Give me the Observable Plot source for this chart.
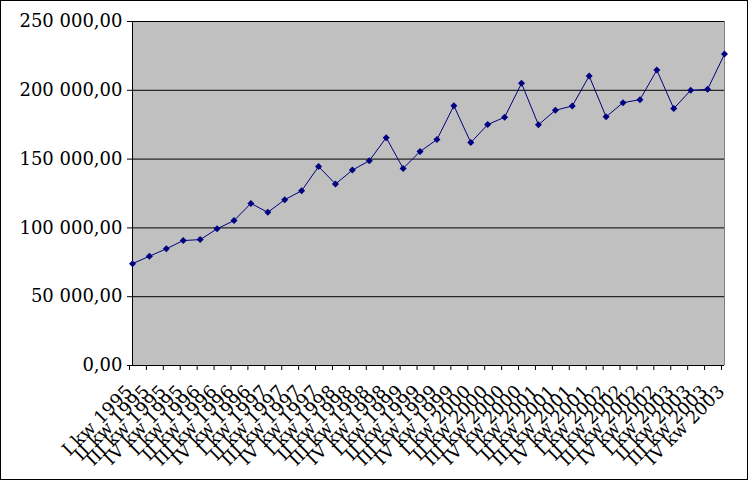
<!DOCTYPE html>
<html>
<head>
<meta charset="utf-8">
<script src="https://cdn.jsdelivr.net/npm/d3@7"></script>
<script src="https://cdn.jsdelivr.net/npm/@observablehq/plot@0.6"></script>
<style>
  body { margin: 0; background: white; }
  svg { display: block; outline: 1px solid black; outline-offset: -1px; }
</style>
</head>
<body>
<div id="chart"></div>
<script>
const quarters = ["I", "II", "III", "IV"];
const years = [1995, 1996, 1997, 1998, 1999, 2000, 2001, 2002, 2003];
const categories = years.flatMap(y => quarters.map(q => `${q} kw ${y}`));
const values = [
  74000, 79400, 84800, 90800, 91500, 99300, 105300, 117800,
  111300, 120500, 127000, 144600, 131900, 142000, 148800, 165600,
  143200, 155500, 164200, 188800, 162000, 175100, 180400, 205100,
  174900, 185500, 188600, 210400, 180700, 191000, 193200, 214700,
  186700, 200000, 200700, 226300
];
const yTicks = [0, 50000, 100000, 150000, 200000, 250000];
const yTickLabels = ["0,00", "50 000,00", "100 000,00", "150 000,00", "200 000,00", "250 000,00"];

const data = categories.map((c, i) => ({category: c, value: values[i]}));

const chart = Plot.plot({
  width: 748,
  height: 480,
  marginLeft: 132,
  marginRight: 24,
  marginTop: 21,
  marginBottom: 115,
  style: {fontFamily: "DejaVu Serif", fontSize: "18px", background: "white", color: "black"},
  x: {type: "point", domain: categories, padding: 0, label: null},
  y: {domain: [0, 250000], label: null},
  marks: [
    Plot.frame({fill: "#c0c0c0", stroke: "none"}),
    Plot.ruleY(yTicks.slice(1), {stroke: "black"}),
    Plot.ruleX([categories[categories.length - 1]], {stroke: "#808080"}),
    Plot.ruleX([categories[0]], {stroke: "black"}),
    Plot.ruleY([0], {stroke: "black"}),
    Plot.axisY(yTicks, {tickFormat: d => yTickLabels[yTicks.indexOf(d)], tickSize: 5, tickPadding: 5, label: null}),
    Plot.axisX({tickRotate: -45, tickSize: 5, tickPadding: 18, dx: -3, label: null}),
    Plot.line(data, {x: "category", y: "value", stroke: "#000080", strokeWidth: 1}),
    Plot.dot(data, {x: "category", y: "value", symbol: "square", rotate: 45, r: 2.8, fill: "#000080", stroke: "none"})
  ]
});
document.getElementById("chart").append(chart);
</script>
</body>
</html>
